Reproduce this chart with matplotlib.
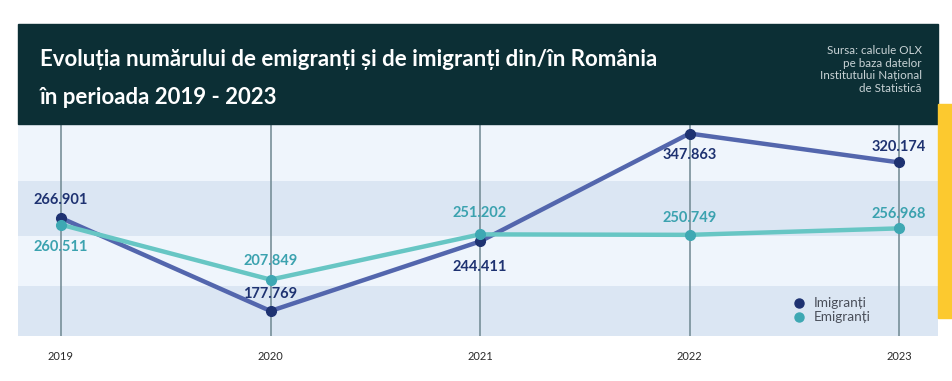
import matplotlib
matplotlib.use("Agg")
import matplotlib.pyplot as plt
from matplotlib.patches import Rectangle
from matplotlib.lines import Line2D

years = [2019, 2020, 2021, 2022, 2023]
imigranti = [266901, 177769, 244411, 347863, 320174]
emigranti = [260511, 207849, 251202, 250749, 256968]
imig_labels = ["266.901", "177.769", "244.411", "347.863", "320.174"]
emig_labels = ["260.511", "207.849", "251.202", "250.749", "256.968"]
band_edges = [150000, 201500, 249700, 302400, 360000]

title = "Evoluția numărului de emigranți și de imigranți din/în România\nîn perioada 2019 - 2023"
source = "Sursa: calcule OLX\npe baza datelor\nInstitutului Național\nde Statistică"

W, H = 953, 381
fig = plt.figure(figsize=(W / 100, H / 100), dpi=100)
fig.patch.set_facecolor("white")

def fx(px):
    return px / W

def fy(py):
    return 1 - py / H

# header and yellow accent
fig.patches.append(Rectangle((fx(18), fy(124)), fx(938) - fx(18), fy(24) - fy(124),
                             transform=fig.transFigure, color="#0c2f35", zorder=0))
fig.patches.append(Rectangle((fx(938), fy(318)), fx(953) - fx(938), fy(104) - fy(318),
                             transform=fig.transFigure, color="#fcc92f", zorder=0))

ax = fig.add_axes([fx(18), fy(336), fx(938) - fx(18), fy(124) - fy(336)])
ax.set_xlim(2019 - 0.2053, 2023 + 0.186)
ax.set_ylim(153811, 356993)

band_colors = ["#dbe6f3", "#eff5fc", "#dbe6f3", "#eff5fc"]
for i in range(len(band_edges) - 1):
    ax.axhspan(band_edges[i], band_edges[i + 1], color=band_colors[i], zorder=0, lw=0)

for yr in years:
    ax.axvline(yr, color="#6e8790", lw=1.1, zorder=1)

ax.plot(years, imigranti, color="#5366ad", lw=3.2, zorder=3, solid_capstyle="round")
ax.plot(years, imigranti, "o", color="#1e3271", ms=7, zorder=4)
ax.plot(years, emigranti, color="#67c6c4", lw=3.2, zorder=5, solid_capstyle="round")
ax.plot(years, emigranti, "o", color="#3ea8b3", ms=7, zorder=6)

imig_off = [18, 17, -26, -21, 15]
emig_off = [-22, 19, 21, 17, 14]
lab_font = dict(family=["Lato", "DejaVu Sans"], fontweight="bold", fontsize=10.5)
for x, y, s, o in zip(years, imigranti, imig_labels, imig_off):
    ax.annotate(s, (x, y), xytext=(0, o * 0.72), textcoords="offset points",
                ha="center", va="center", color="#1e3271", zorder=7, **lab_font)
for x, y, s, o in zip(years, emigranti, emig_labels, emig_off):
    ax.annotate(s, (x, y), xytext=(0, o * 0.72), textcoords="offset points",
                ha="center", va="center", color="#3ba2af", zorder=7, **lab_font)

ax.set_xticks(years)
ax.set_xticklabels([str(y) for y in years], fontsize=8, color="#2a2a2a",
                   family=["Lato", "DejaVu Sans"])
ax.tick_params(axis="x", length=0, pad=11)
ax.set_yticks([])
for sp in ax.spines.values():
    sp.set_visible(False)

handles = [Line2D([], [], marker="o", ls="", color="#1e3271", ms=6.5),
           Line2D([], [], marker="o", ls="", color="#3ea8b3", ms=6.5)]
leg = fig.legend(handles, ["Imigranți", "Emigranți"], loc="upper left",
                 bbox_to_anchor=(fx(780), fy(292)), frameon=False,
                 handletextpad=0.1, labelspacing=0.15, borderaxespad=0,
                 prop=dict(family=["Lato", "DejaVu Sans"], size=9.8))
for t in leg.get_texts():
    t.set_color("#4a4f5a")

title_font = dict(color="white", fontsize=16, fontweight="bold",
                  family=["Lato", "DejaVu Sans"], va="center", ha="left")
fig.text(fx(40), fy(60), title.split("\n")[0], **title_font)
fig.text(fx(40), fy(97), title.split("\n")[1], **title_font)
fig.text(fx(922), fy(45), source, color="#c9d3d6", fontsize=8.4, ha="right", va="top",
         family=["Lato", "DejaVu Sans"], linespacing=1.18)

fig.savefig("out.png", dpi=100)
